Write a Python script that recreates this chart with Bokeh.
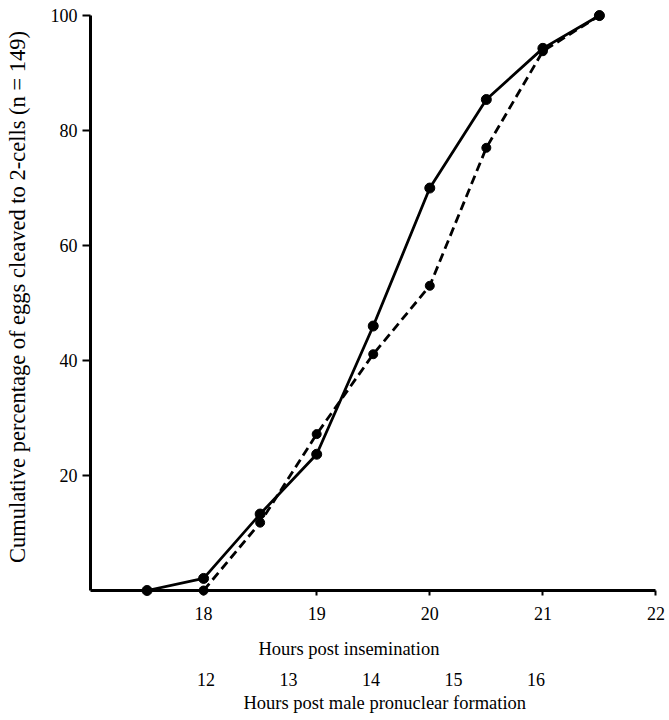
from bokeh.plotting import figure
from bokeh.models import LinearAxis, Range1d, FixedTicker, Title
from bokeh.embed import file_html
from bokeh.resources import INLINE

# Data
hours_solid = [17.5, 18, 18.5, 19, 19.5, 20, 20.5, 21, 21.5]
pct_solid = [0, 2.1, 13.3, 23.7, 46, 70, 85.4, 94.3, 100]
hours_dashed = [18, 18.5, 19, 19.5, 20, 20.5, 21, 21.5]
pct_dashed = [0, 11.8, 27.2, 41.1, 53, 77, 93.8, 100]

x_ticks = [18, 19, 20, 21, 22]
y_ticks = [20, 40, 60, 80, 100]
pn_ticks = [12, 13, 14, 15, 16]

FONT = "Liberation Serif"

p = figure(width=668, height=715, x_range=Range1d(17, 22.04), y_range=Range1d(0, 102.1),
           output_backend="svg", toolbar_location=None,
           min_border_left=90, min_border_right=8, min_border_top=3, min_border_bottom=0)
p.outline_line_color = None
p.grid.visible = False
p.background_fill_color = "white"

# main x axis: line, ticks and tick labels
xa = p.xaxis[0]
xa.ticker = FixedTicker(ticks=x_ticks)
xa.bounds = (17, 22)
xa.axis_line_width = 3
xa.axis_line_color = "black"
xa.major_tick_out = 5
xa.major_tick_in = 0
xa.major_tick_line_width = 2
xa.minor_tick_line_color = None
xa.major_label_standoff = 11
xa.major_label_text_font = FONT
xa.major_label_text_font_size = "18px"
xa.major_label_text_color = "black"

# title of the main x axis
t1 = Title(text="Hours post insemination", align="left", offset=168, standoff=28,
           text_font=FONT, text_font_size="18.5px", text_font_style="normal",
           text_color="black")
p.add_layout(t1, "below")

ya = p.yaxis[0]
ya.ticker = FixedTicker(ticks=y_ticks)
ya.bounds = (0, 100)
ya.axis_line_width = 3
ya.axis_line_color = "black"
ya.major_tick_out = 8
ya.major_tick_in = 0
ya.major_tick_line_width = 2
ya.minor_tick_line_color = None
ya.major_label_standoff = 5
ya.major_label_text_font = FONT
ya.major_label_text_font_size = "18px"
ya.major_label_text_color = "black"
ya.axis_label = "Cumulative percentage of eggs cleaved to 2-cells (n = 149)"
ya.axis_label_text_font = FONT
ya.axis_label_text_font_size = "22.5px"
ya.axis_label_text_font_style = "normal"
ya.axis_label_text_color = "black"
ya.axis_label_standoff = 18

# secondary axis: hours post male pronuclear formation
p.extra_x_ranges = {"pn": Range1d(10.6, 17.51)}
pa = LinearAxis(x_range_name="pn", ticker=FixedTicker(ticks=pn_ticks))
pa.axis_line_color = None
pa.major_tick_line_color = None
pa.minor_tick_line_color = None
pa.major_tick_out = 0
pa.major_tick_in = 0
pa.major_label_standoff = 0
pa.major_label_text_font = FONT
pa.major_label_text_font_size = "18px"
pa.major_label_text_color = "black"
p.add_layout(pa, "below")

t2 = Title(text="Hours post male pronuclear formation", align="left", offset=153, standoff=5,
           text_font=FONT, text_font_size="18.5px", text_font_style="normal",
           text_color="black")
p.add_layout(t2, "below")

# series
p.line(hours_solid, pct_solid, line_color="black", line_width=2.8)
p.line(hours_dashed, pct_dashed, line_color="black", line_width=2.8, line_dash="9 5")
r1 = p.scatter(hours_solid, pct_solid, size=10, fill_color="black", line_color="black")
r2 = p.scatter(hours_dashed, pct_dashed, size=9, fill_color="black", line_color="black")
r1.level = "overlay"
r2.level = "overlay"

open("out.html", "w").write(file_html(p, INLINE))
